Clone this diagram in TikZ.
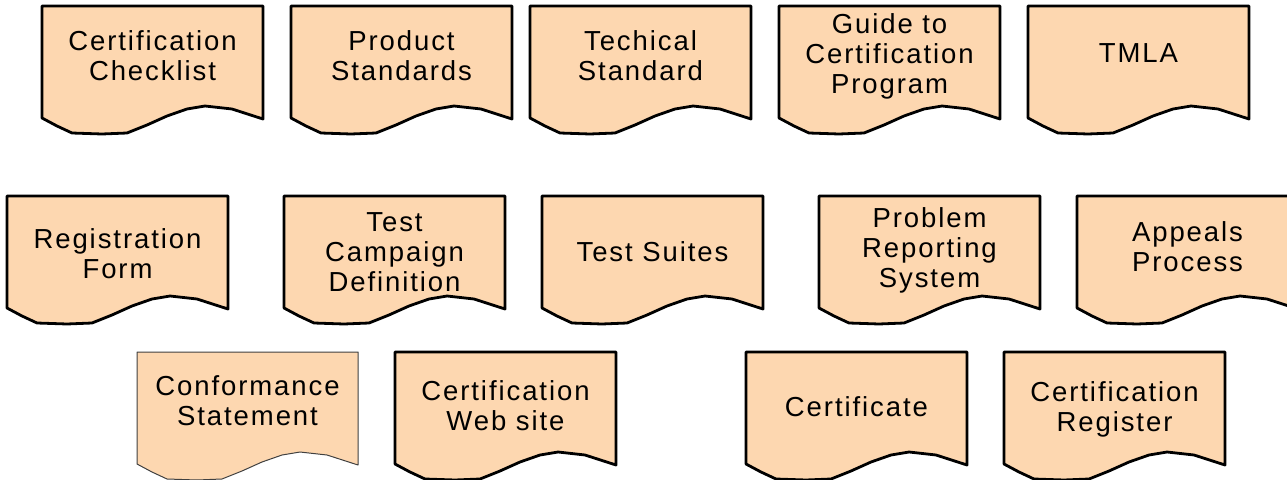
\documentclass[tikz,border=0pt]{standalone}
\usepackage{fontspec}
\setmainfont{Liberation Sans}[LetterSpace=7]
\usetikzlibrary{calc}
\definecolor{docfill}{HTML}{FDD7B0}
\tikzset{
  docshape/.style={draw=black, line width=2.8pt, fill=docfill, line join=round},
  docthin/.style={draw=black!75, line width=1pt, fill=docfill, line join=round},
  doctext/.style={align=center, inner sep=0pt, font=\fontsize{27.5}{30}\selectfont}
}
\newcommand\docbox[6]{%
  \path[#5] (#2,#3) -- ++(221,0) -- ++(0,113)
    -- ++(-31,-10) -- ++(-27,-3) -- ++(-18,3) -- ++(-20,7) -- ++(-20,9) -- ++(-20,8)
    -- ++(-25,1) -- ++(-30,-1) -- ++(-15,-7) -- ++(-15,-8) -- cycle;
  \node[doctext] (#1) at ($(#2,#3)+(110.5,51+#6)$) {#4};
}
\begin{document}
\begin{tikzpicture}[x=1pt,y=-1pt]
\useasboundingbox (0,0) rectangle (1287,479);
% row 1
\docbox{cc}{42}{6}{Certification\\Checklist}{docshape}{-1}
\docbox{ps}{291}{6}{Product\\Standards}{docshape}{-1}
\docbox{ts}{530}{6}{Techical\\Standard}{docshape}{-1}
\docbox{gc}{779}{6}{Guide to\\Certification\\Program}{docshape}{-1}
\docbox{tm}{1028}{6}{TMLA}{docshape}{-4}
% row 2
\docbox{rf}{7}{196}{Registration\\Form}{docshape}{7}
\docbox{tc}{284}{196}{Test\\Campaign\\Definition}{docshape}{5}
\docbox{su}{542}{196}{Test Suites}{docshape}{5}
\docbox{pr}{819}{196}{Problem\\Reporting\\System}{docshape}{3}
\docbox{ap}{1077}{196}{Appeals\\Process}{docshape}{0}
% row 3
\docbox{cs}{137}{352}{Conformance\\Statement}{docthin}{-2}
\docbox{ws}{395}{352}{Certification\\Web site}{docshape}{3}
\docbox{ce}{746}{352}{Certificate}{docshape}{4}
\docbox{cr}{1004}{352}{Certification\\Register}{docshape}{6}
\end{tikzpicture}
\end{document}
